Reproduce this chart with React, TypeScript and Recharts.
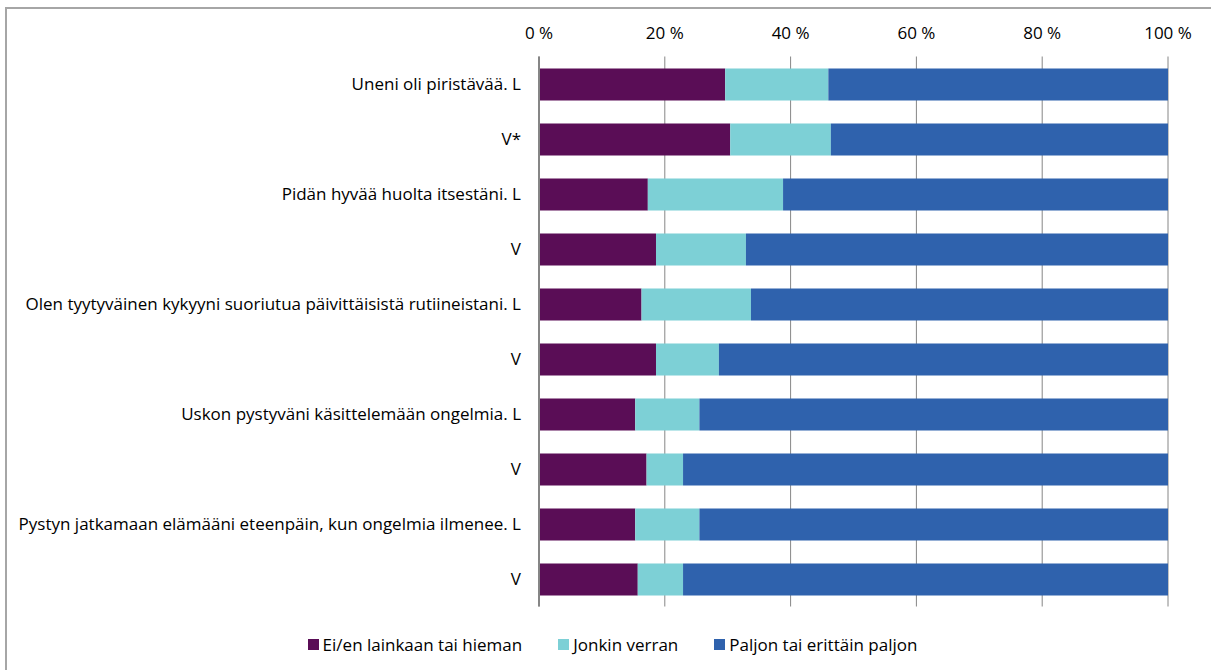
import React from "react";
import {
  BarChart,
  Bar,
  XAxis,
  YAxis,
  CartesianGrid,
  Legend,
} from "recharts";

const kategoriat = [
  "Uneni oli piristävää. L",
  "V*",
  "Pidän hyvää huolta itsestäni. L",
  "V",
  "Olen tyytyväinen kykyyni suoriutua päivittäisistä rutiineistani. L",
  "V",
  "Uskon pystyväni käsittelemään ongelmia. L",
  "V",
  "Pystyn jatkamaan elämääni eteenpäin, kun ongelmia ilmenee. L",
  "V",
];

const eiLainkaan = [29.6, 30.4, 17.3, 18.6, 16.3, 18.6, 15.3, 17.1, 15.3, 15.7];
const jonkinVerran = [16.4, 16.0, 21.5, 14.3, 17.4, 10.0, 10.2, 5.8, 10.2, 7.2];
const paljon = [54.0, 53.6, 61.2, 67.1, 66.3, 71.4, 74.5, 77.1, 74.5, 77.1];

const xTicks = [0, 20, 40, 60, 80, 100];

const sarjat = [
  { key: "ei", name: "Ei/en lainkaan tai hieman", color: "#5a0d56" },
  { key: "jonkin", name: "Jonkin verran", color: "#7dd0d6" },
  { key: "paljon", name: "Paljon tai erittäin paljon", color: "#2f62ad" },
];

const data = kategoriat.map((label, i) => ({
  id: i,
  label,
  ei: eiLainkaan[i],
  jonkin: jonkinVerran[i],
  paljon: paljon[i],
}));

const FONT = "'Open Sans', sans-serif";

const renderLegend = () => (
  <div
    style={{
      display: "flex",
      justifyContent: "center",
      gap: 36,
      fontFamily: FONT,
      fontSize: 17,
      color: "#000",
    }}
  >
    {sarjat.map((s) => (
      <div key={s.key} style={{ display: "flex", alignItems: "center" }}>
        <span
          style={{
            display: "inline-block",
            width: 11,
            height: 11,
            background: s.color,
            marginRight: 4,
          }}
        />
        <span>{s.name}</span>
      </div>
    ))}
  </div>
);

export default function App() {
  return (
    <div
      style={{
        position: "absolute",
        left: 0,
        top: 0,
        width: 1211,
        height: 670,
        overflow: "hidden",
        background: "#fff",
      }}
    >
      <div
        style={{
          position: "absolute",
          left: 5,
          top: 7,
          width: 1230,
          height: 700,
          border: "2px solid #a6a6a6",
          boxSizing: "border-box",
        }}
      />
      <div style={{ position: "absolute", left: 0, top: 0 }}>
        <BarChart
          width={1211}
          height={670}
          data={data}
          layout="vertical"
          margin={{ top: 6.5, right: 43, left: 0, bottom: 63.5 }}
          barSize={32}
        >
          <CartesianGrid
            horizontal={false}
            stroke="#868686"
            strokeWidth={1}
          />
          <XAxis
            type="number"
            orientation="top"
            domain={[0, 100]}
            ticks={xTicks}
            tickFormatter={(v: number) => `${v} %`}
            axisLine={false}
            tickLine={false}
            tickSize={0}
            tickMargin={18}
            height={50}
            tick={{ fontSize: 17, fill: "#000", fontFamily: FONT }}
          />
          <YAxis
            type="category"
            dataKey="id"
            width={539}
            tickFormatter={(v: number) => kategoriat[v]}
            axisLine={{ stroke: "#868686", strokeWidth: 2 }}
            tickLine={false}
            tickSize={0}
            tickMargin={18}
            interval={0}
            tick={{ fontSize: 17, fill: "#000", fontFamily: FONT }}
          />
          <Legend
            verticalAlign="middle"
            layout="horizontal"
            content={renderLegend}
            wrapperStyle={{ top: 633, left: 7, width: 1211 }}
          />
          {sarjat.map((s) => (
            <Bar
              key={s.key}
              dataKey={s.key}
              name={s.name}
              stackId="a"
              fill={s.color}
              isAnimationActive={false}
            />
          ))}
        </BarChart>
      </div>
    </div>
  );
}
